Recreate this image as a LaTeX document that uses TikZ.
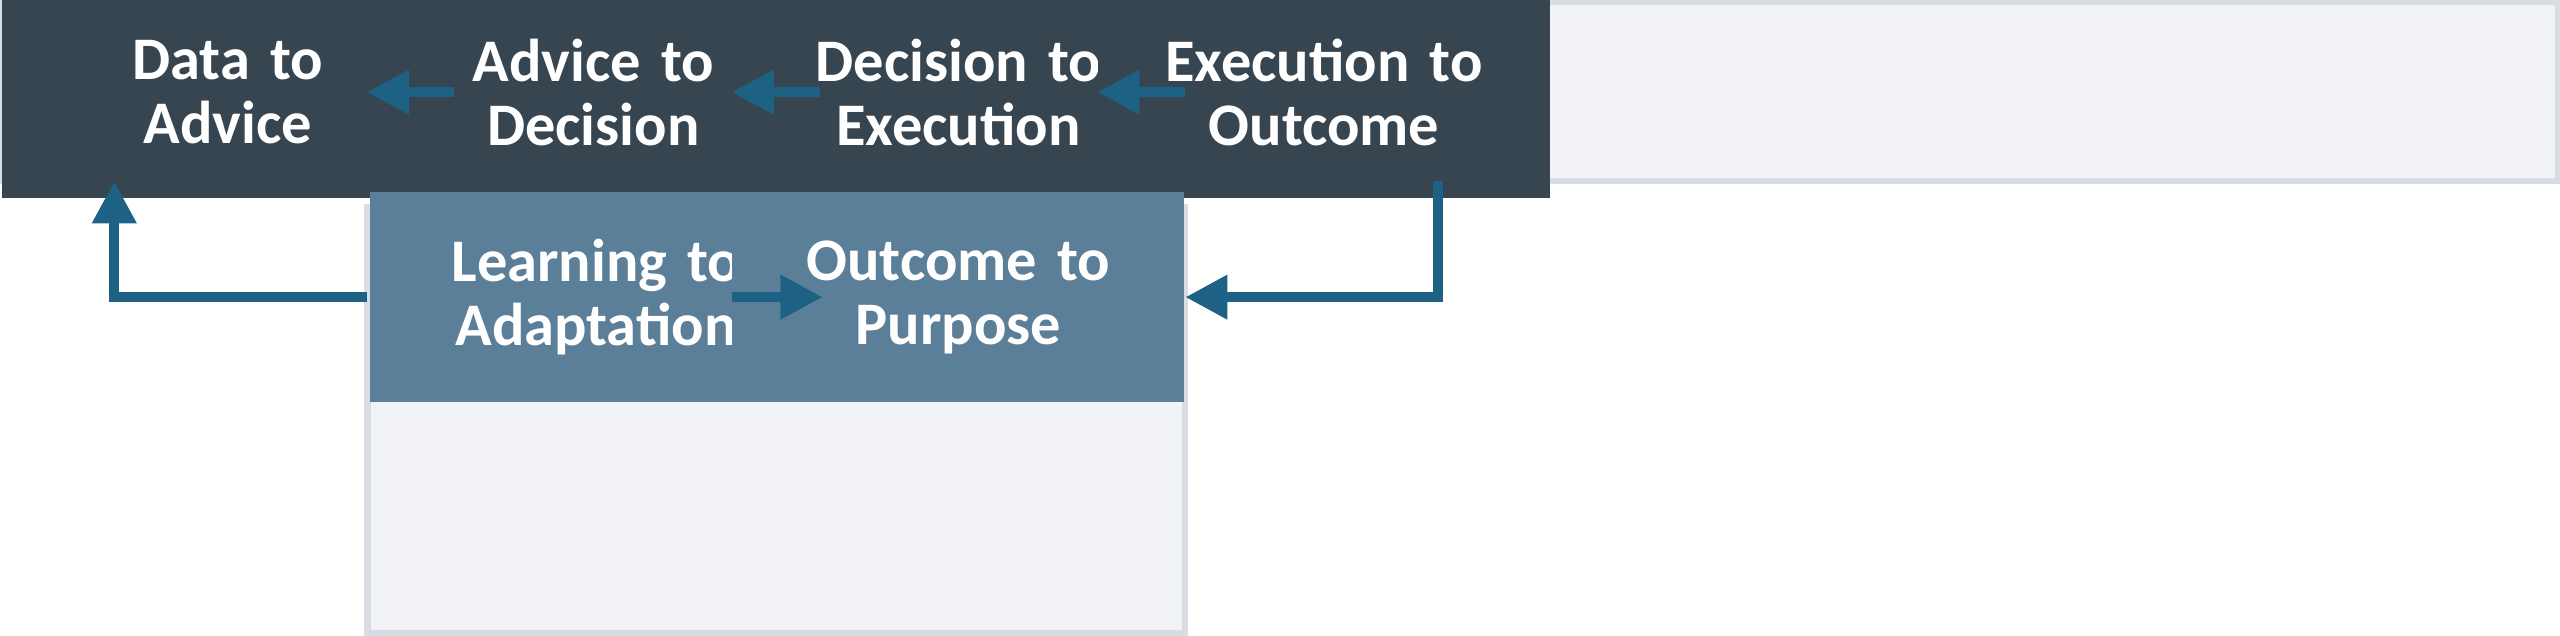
\documentclass[tikz,border=0pt]{standalone}
\usepackage{fontspec}
\setmainfont{Carlito}
\usetikzlibrary{arrows.meta}
\definecolor{panelbg}{HTML}{F2F3F7}
\definecolor{panelln}{HTML}{D8DCE3}
\definecolor{darkbox}{HTML}{36454F}
\definecolor{lightbox}{HTML}{5B7E99}
\definecolor{flow}{HTML}{1D6285}
\tikzset{
  panel/.style={fill=panelbg,draw=panelln,line width=1.8pt},
  stage/.style={minimum width=4.52cm,minimum height=2.107cm,text width=4.3cm,align=center,
    text=white,font=\fontsize{17.2}{18.2}\selectfont\bfseries,inner sep=0pt},
  topstage/.style={stage,fill=darkbox},
  lowstage/.style={stage,fill=lightbox},
  flw/.style={draw=flow,line width=2.8pt,-{Triangle[length=12pt,width=12pt]}}
}
\begin{document}
\begin{tikzpicture}[x=0.01633cm,y=-0.01633cm]
    \useasboundingbox (0,0) rectangle (1568,389);
    % panels
    \draw[panel] (1,1) rectangle (1567,111);
    \draw[panel] (225,127) rectangle (726,388);
    % top row
    \node[topstage] (d2a) at (139.5,56.5) {Data to\\Advice};
    \node[topstage] (a2d) at (363.5,56.5) {Advice to\\Decision};
    \node[topstage] (d2e) at (587,56.5) {Decision to\\Execution};
    \node[topstage] (e2o) at (811,56.5) {Execution to\\Outcome};
    % bottom row
    \node[lowstage] (l2a) at (365,182) {Learning to\\Adaptation};
    \node[lowstage] (o2p) at (587,182) {Outcome to\\Purpose};
    % connectors
    \draw[flw] (d2a) -- (a2d);
    \draw[flw] (a2d) -- (d2e);
    \draw[flw] (d2e) -- (e2o);
    \draw[flw] (o2p) -- (l2a);
    \coordinate (rtop) at (881,111);
    \coordinate (rin) at (726,182);
    \coordinate (lout) at (225,182);
    \coordinate (ltop) at (70,111);
    \draw[flw] (rtop) |- (rin);
    \draw[flw] (lout) -| (ltop);
\end{tikzpicture}
\end{document}
